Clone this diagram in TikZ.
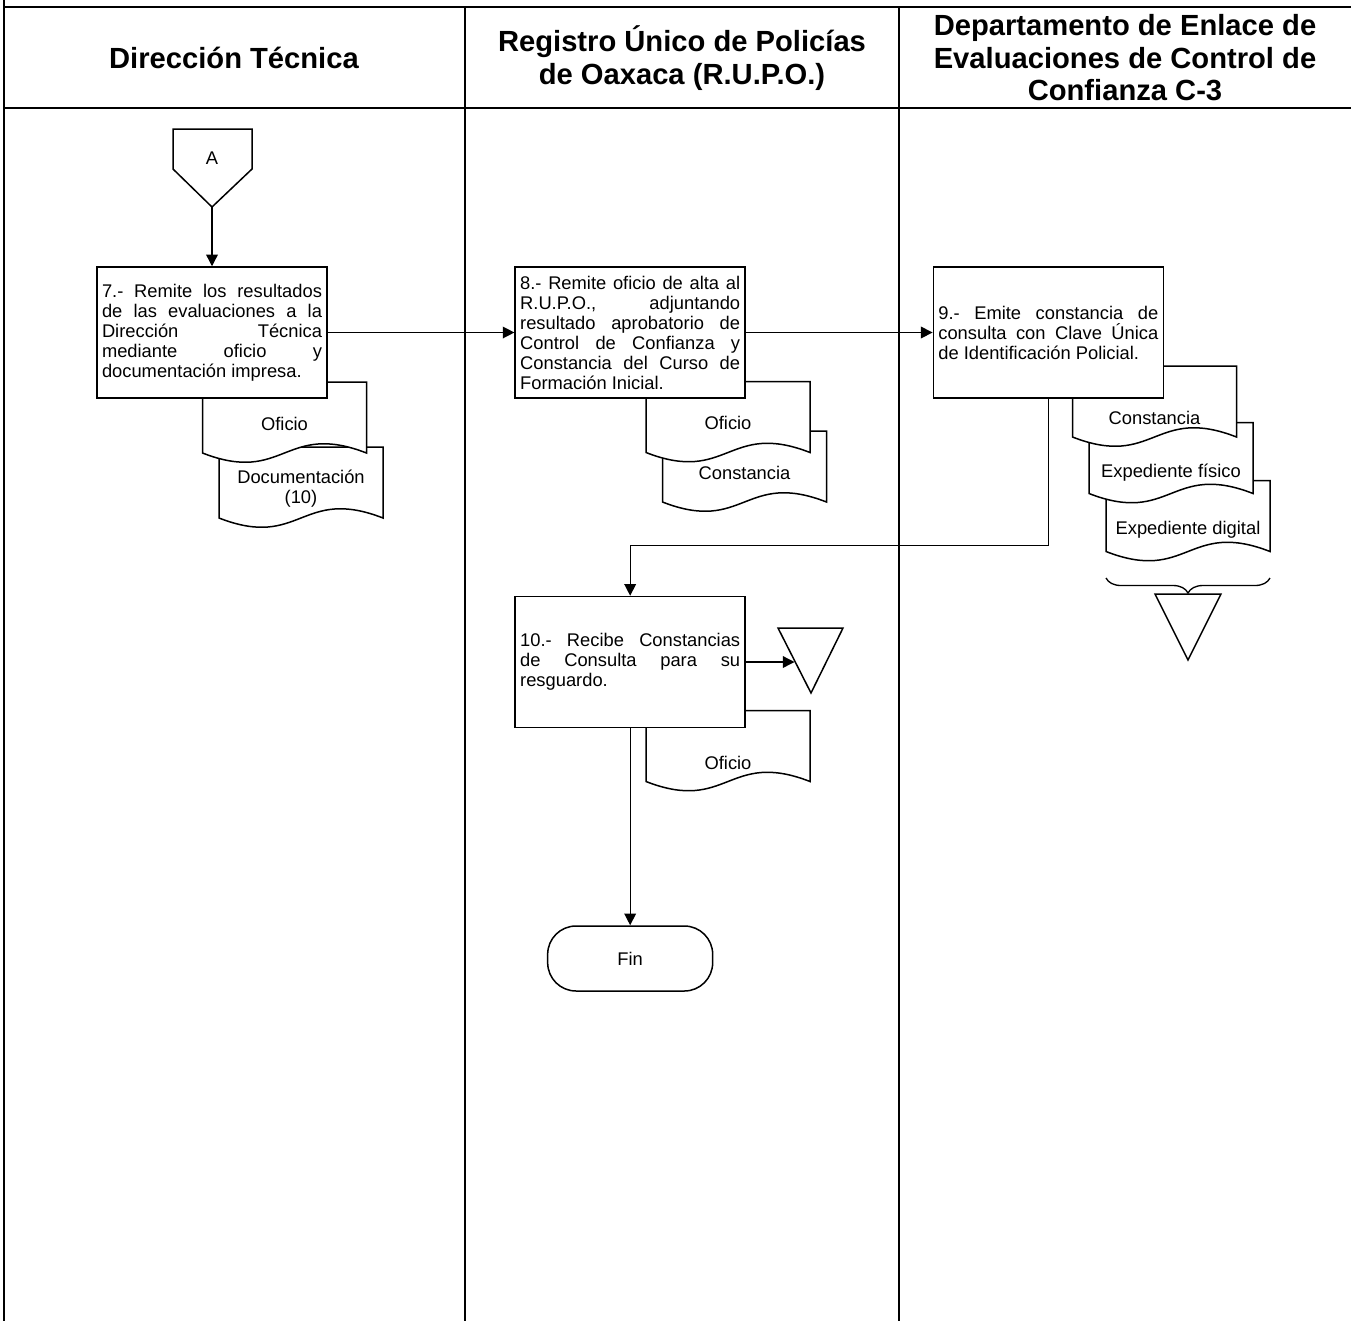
\documentclass[tikz,border=0pt]{standalone}
\usepackage{fontspec}
\setmainfont{Liberation Sans}
\usetikzlibrary{positioning,arrows.meta,calc,decorations.pathreplacing}
\tolerance=10000
\hbadness=10000

\begin{document}
\begin{tikzpicture}[
        x=0.6pt, y=-0.6pt,
        >={Triangle[length=7pt,width=7pt]},
        lane/.style={line width=1.2pt},
        lanehead/.style={
            align=center,
            font=\fontsize{17.5}{19.5}\selectfont\bfseries
        },
        process/.style={
            rectangle,
            draw=black,
            fill=white,
            line width=0.9pt,
            minimum width=138pt,
            minimum height=78.6pt,
            text width=132pt,
            inner xsep=3pt,
            align=justify,
            font=\fontsize{11}{12}\selectfont
        },
        docline/.style={draw=black, fill=white, line width=0.9pt},
        doclabel/.style={align=center, inner sep=0pt, font=\fontsize{11}{12}\selectfont},
        pics/document/.style n args={2}{code={
            \filldraw[docline] (-82,-35.5) -- (82,-35.5) -- (82,35.5)
                .. controls (0,3.5) and (0,67.5) .. (-82,35.5) -- cycle;
            \node[doclabel] (-label) at (0,#1) {#2};
        }},
        storage/.style={draw=black, fill=white, line width=0.9pt},
        terminal/.style={
            rectangle,
            rounded corners=17pt,
            draw=black,
            line width=0.9pt,
            minimum width=99pt,
            minimum height=39pt,
            font=\fontsize{11}{12}\selectfont
        },
        arrow/.style={->, line width=0.8pt},
        link/.style={line width=0.8pt}
    ]

    \useasboundingbox (0,0) rectangle (1351,1321);

    % swimlanes
    \draw[lane] (4,0) -- (4,1321);
    \draw[lane] (465,7) -- (465,1321);
    \draw[lane] (899,7) -- (899,1321);
    \draw[lane] (4,7) -- (1351,7);
    \draw[lane] (4,108) -- (1351,108);

    \node[lanehead] (hdir) at (234,58) {Dirección Técnica};
    \node[lanehead] (hrupo) at (682,58) {Registro Único de Policías\\de Oaxaca (R.U.P.O.)};
    \node[lanehead] (hdep) at (1125,58) {Departamento de Enlace de\\Evaluaciones de Control de\\Confianza C-3};

    % off-page connector
    \draw[storage] (173,129) -- (252,129) -- (252,169) -- (212,207) -- (173,169) -- cycle;
    \node[doclabel] (conA) at (212,158) {A};
    \coordinate (conA-tip) at (212,207);

    % documents, back to front
    \pic (d7b) at (301,482.5) {document={6.5}{Documentación\\(10)}};
    \pic (d7a) at (284.5,417.5) {document={6.5}{Oficio}};
    \pic (d8b) at (744.5,466.5) {document={6.5}{Constancia}};
    \pic (d8a) at (728,417) {document={6}{Oficio}};
    \pic (d9c) at (1188,516) {document={14}{Expediente digital}};
    \pic (d9b) at (1171,458) {document={15}{Expediente físico}};
    \pic (d9a) at (1154.5,401.5) {document={16.5}{Constancia}};
    \pic (d10) at (728,746) {document={17}{Oficio}};

    % steps
    \node[process] (b7) at (212,332.5) {
        7.- Remite los resultados\linebreak
        de las evaluaciones a la\linebreak
        Dirección Técnica\linebreak
        mediante oficio y\linebreak
        documentación impresa.
    };

    \node[process, right=112pt of b7] (b8) {
        8.- Remite oficio de alta al\linebreak
        R.U.P.O., adjuntando\linebreak
        resultado aprobatorio de\linebreak
        Control de Confianza y\linebreak
        Constancia del Curso de\linebreak
        Formación Inicial.
    };

    \node[process, right=112pt of b8] (b9) {
        9.- Emite constancia de\linebreak
        consulta con Clave Única\linebreak
        de Identificación Policial.
    };

    \node[process, below=118.2pt of b8] (b10) {
        10.- Recibe Constancias\linebreak
        de Consulta para su\linebreak
        resguardo.
    };

    \node[terminal, below=118.2pt of b10] (fin) {Fin};

    % archive triangles
    \draw[storage] (778,628) -- (843,628) -- (811,693) -- cycle;
    \coordinate (arch10) at (794.5,660.5);
    \draw[link, decorate, decoration={brace, amplitude=9pt, mirror}] (1106,578) -- (1270,578);
    \draw[storage] (1155,594) -- (1221,594) -- (1188,660) -- cycle;

    % flow
    \draw[arrow] (conA-tip) -- (b7);
    \draw[arrow] (b7) -- (b8);
    \draw[arrow] (b8) -- (b9);
    \draw[arrow] (b9.south) -- ++(0,147) -| (b10.north);
    \draw[arrow] (b10.east) -- (b10.east -| arch10);
    \draw[arrow] (b10) -- (fin);

\end{tikzpicture}
\end{document}
